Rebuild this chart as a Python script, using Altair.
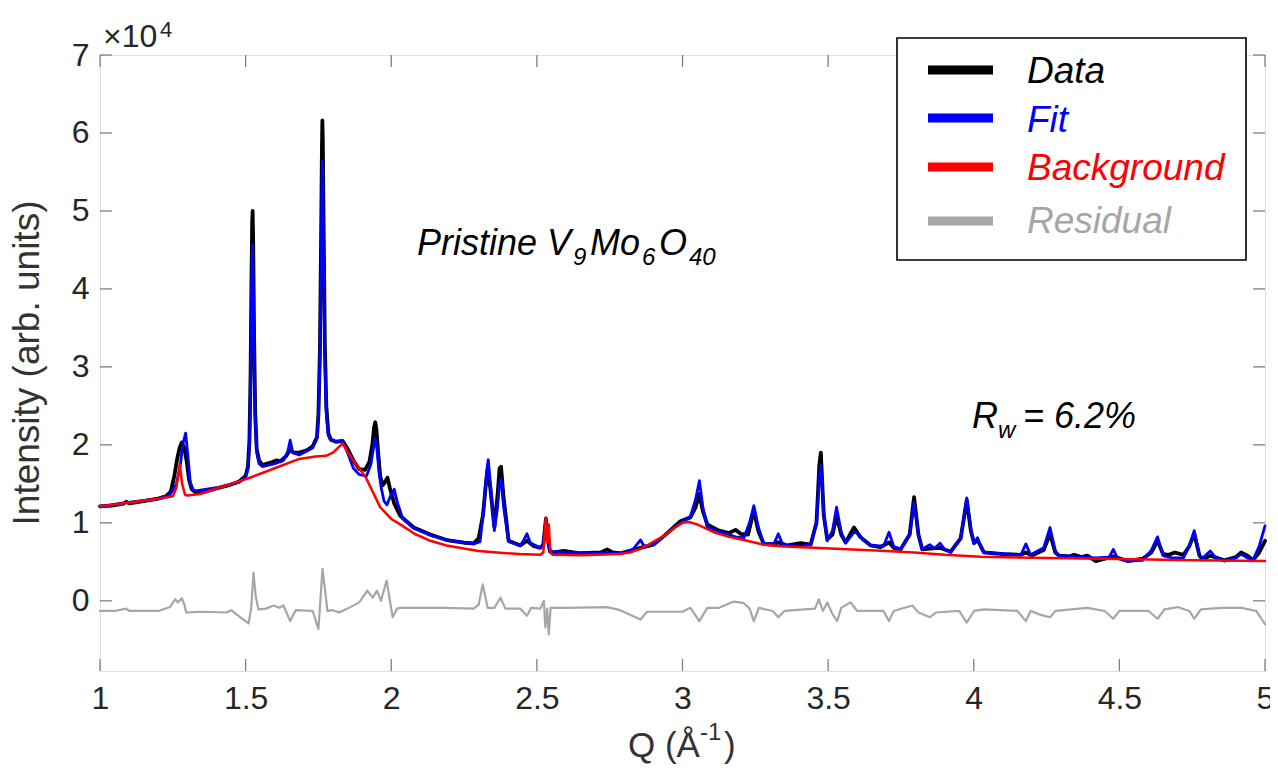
import altair as alt
import pandas as pd

# ---------------- data (intensity in units of 10^4) ----------------
data_q = [1.000, 1.040, 1.080, 1.090, 1.100, 1.150, 1.200, 1.226, 1.243, 1.255, 1.266, 1.274, 1.281, 1.290,
          1.298, 1.306, 1.315, 1.329, 1.360, 1.400, 1.440, 1.478, 1.500, 1.508, 1.513, 1.517, 1.520, 1.5225,
          1.524, 1.526, 1.529, 1.533, 1.538, 1.546, 1.558, 1.575, 1.592, 1.605, 1.620, 1.640, 1.653, 1.665,
          1.684, 1.710, 1.730, 1.745, 1.750, 1.755, 1.759, 1.762, 1.7635, 1.765, 1.768, 1.772, 1.777, 1.784,
          1.792, 1.810, 1.833, 1.850, 1.870, 1.890, 1.910, 1.925, 1.935, 1.941, 1.945, 1.949, 1.955, 1.962,
          1.970, 1.978, 1.987, 1.995, 2.010, 2.031, 2.077, 2.134, 2.190, 2.250, 2.283, 2.300, 2.315, 2.325,
          2.331, 2.340, 2.354, 2.365, 2.372, 2.377, 2.385, 2.403, 2.443, 2.466, 2.490, 2.512, 2.522, 2.531,
          2.537, 2.545, 2.560, 2.592, 2.649, 2.720, 2.741, 2.760, 2.786, 2.830, 2.856, 2.900, 2.936, 2.993,
          3.027, 3.045, 3.058, 3.070, 3.085, 3.125, 3.160, 3.182, 3.200, 3.225, 3.245, 3.260, 3.279, 3.310,
          3.329, 3.360, 3.405, 3.440, 3.460, 3.470, 3.475, 3.485, 3.497, 3.515, 3.529, 3.545, 3.560, 3.589,
          3.610, 3.646, 3.680, 3.709, 3.725, 3.749, 3.780, 3.795, 3.810, 3.823, 3.850, 3.884, 3.921, 3.955,
          3.976, 3.990, 4.001, 4.013, 4.035, 4.100, 4.162, 4.179, 4.200, 4.240, 4.262, 4.280, 4.293, 4.330,
          4.345, 4.370, 4.390, 4.419, 4.479, 4.528, 4.580, 4.610, 4.631, 4.650, 4.670, 4.690, 4.720, 4.740,
          4.757, 4.775, 4.786, 4.812, 4.860, 4.900, 4.918, 4.940, 4.958, 4.980, 5.000]
data_i = [1.21, 1.22, 1.245, 1.27, 1.25, 1.28, 1.31, 1.34, 1.40, 1.60, 1.84, 1.97, 2.03, 1.95,
          1.78, 1.55, 1.43, 1.39, 1.40, 1.44, 1.48, 1.53, 1.60, 1.72, 2.05, 2.9, 4.1, 4.85,
          5.0, 4.6, 3.4, 2.4, 1.95, 1.80, 1.74, 1.76, 1.78, 1.80, 1.79, 1.86, 1.94, 1.90,
          1.90, 1.93, 1.98, 2.10, 2.4, 3.2, 4.6, 5.8, 6.16, 5.9, 4.7, 3.3, 2.5, 2.15,
          2.07, 2.04, 2.05, 1.95, 1.80, 1.69, 1.68, 1.78, 2.00, 2.22, 2.29, 2.20, 1.90, 1.60,
          1.48, 1.52, 1.58, 1.45, 1.25, 1.09, 0.94, 0.85, 0.78, 0.745, 0.736, 0.80, 1.10, 1.50,
          1.67, 1.45, 0.95, 1.35, 1.70, 1.72, 1.35, 0.77, 0.71, 0.77, 0.70, 0.68, 0.72, 1.05,
          0.80, 0.63, 0.62, 0.64, 0.61, 0.62, 0.66, 0.62, 0.61, 0.65, 0.68, 0.72, 0.83, 1.02,
          1.07, 1.20, 1.37, 1.15, 0.98, 0.90, 0.87, 0.91, 0.86, 0.85, 1.16, 0.90, 0.73, 0.72,
          0.75, 0.71, 0.74, 0.72, 1.00, 1.75, 1.90, 1.10, 0.79, 0.85, 1.09, 0.85, 0.75, 0.94,
          0.82, 0.71, 0.69, 0.75, 0.68, 0.66, 0.85, 1.33, 0.85, 0.66, 0.67, 0.68, 0.63, 0.80,
          1.29, 0.90, 0.74, 0.78, 0.62, 0.60, 0.59, 0.62, 0.58, 0.65, 0.86, 0.62, 0.58, 0.57,
          0.59, 0.56, 0.58, 0.51, 0.57, 0.51, 0.54, 0.62, 0.77, 0.60, 0.59, 0.62, 0.59, 0.70,
          0.86, 0.58, 0.53, 0.58, 0.52, 0.56, 0.62, 0.58, 0.52, 0.62, 0.77]

fit_q = [1.000, 1.090, 1.200, 1.240, 1.262, 1.275, 1.285, 1.294, 1.302, 1.310, 1.320, 1.329, 1.400, 1.478,
         1.500, 1.508, 1.513, 1.517, 1.520, 1.5225, 1.524, 1.526, 1.529, 1.533, 1.538, 1.546, 1.558, 1.600,
         1.630, 1.645, 1.653, 1.662, 1.684, 1.730, 1.745, 1.750, 1.755, 1.759, 1.762, 1.7635, 1.765, 1.768,
         1.772, 1.777, 1.784, 1.792, 1.810, 1.833, 1.850, 1.870, 1.890, 1.915, 1.930, 1.940, 1.945, 1.950,
         1.958, 1.965, 1.975, 1.985, 1.998, 2.010, 2.022, 2.040, 2.077, 2.134, 2.190, 2.283, 2.305, 2.318,
         2.327, 2.333, 2.343, 2.354, 2.365, 2.372, 2.377, 2.386, 2.403, 2.443, 2.455, 2.466, 2.478, 2.512,
         2.522, 2.531, 2.537, 2.545, 2.592, 2.700, 2.786, 2.830, 2.845, 2.856, 2.868, 2.900, 2.936, 2.993,
         3.027, 3.045, 3.058, 3.070, 3.085, 3.125, 3.182, 3.211, 3.230, 3.245, 3.260, 3.279, 3.315, 3.329,
         3.343, 3.360, 3.405, 3.440, 3.460, 3.470, 3.475, 3.485, 3.497, 3.515, 3.529, 3.545, 3.560, 3.589,
         3.605, 3.620, 3.646, 3.690, 3.709, 3.725, 3.749, 3.780, 3.795, 3.810, 3.823, 3.840, 3.850, 3.865,
         3.884, 3.900, 3.921, 3.955, 3.976, 3.990, 4.001, 4.013, 4.025, 4.035, 4.162, 4.179, 4.195, 4.240,
         4.262, 4.280, 4.293, 4.419, 4.465, 4.479, 4.493, 4.528, 4.580, 4.610, 4.631, 4.650, 4.680, 4.720,
         4.740, 4.757, 4.775, 4.786, 4.812, 4.830, 4.860, 4.900, 4.918, 4.940, 4.958, 4.980, 5.000]
fit_i = [1.21, 1.26, 1.31, 1.36, 1.50, 1.72, 2.02, 2.15, 1.85, 1.52, 1.42, 1.41, 1.45, 1.52,
         1.59, 1.70, 2.00, 2.75, 3.8, 4.45, 4.56, 4.2, 3.2, 2.3, 1.90, 1.76, 1.72, 1.76,
         1.80, 1.92, 2.06, 1.90, 1.87, 1.96, 2.08, 2.35, 3.1, 4.3, 5.35, 5.64, 5.4, 4.3,
         3.1, 2.4, 2.12, 2.06, 2.04, 2.05, 1.90, 1.70, 1.62, 1.60, 1.75, 1.98, 2.07, 1.98,
         1.65, 1.46, 1.28, 1.23, 1.35, 1.43, 1.25, 1.05, 0.93, 0.84, 0.78, 0.73, 0.76, 1.20,
         1.65, 1.81, 1.40, 0.90, 1.20, 1.52, 1.56, 1.20, 0.76, 0.71, 0.78, 0.86, 0.74, 0.68,
         0.72, 1.06, 0.80, 0.63, 0.62, 0.61, 0.61, 0.66, 0.73, 0.78, 0.70, 0.72, 0.83, 1.00,
         1.08, 1.30, 1.54, 1.20, 0.94, 0.89, 0.82, 0.81, 1.00, 1.22, 0.95, 0.73, 0.74, 0.86,
         0.73, 0.71, 0.70, 0.72, 1.00, 1.62, 1.74, 1.10, 0.77, 0.90, 1.20, 0.88, 0.74, 0.88,
         0.86, 0.78, 0.71, 0.70, 0.88, 0.70, 0.66, 0.85, 1.26, 0.85, 0.66, 0.70, 0.72, 0.67,
         0.74, 0.66, 0.62, 0.80, 1.32, 0.92, 0.73, 0.81, 0.68, 0.62, 0.59, 0.73, 0.59, 0.68,
         0.94, 0.64, 0.58, 0.55, 0.56, 0.66, 0.55, 0.51, 0.52, 0.65, 0.82, 0.58, 0.55, 0.55,
         0.70, 0.90, 0.58, 0.55, 0.64, 0.55, 0.51, 0.55, 0.60, 0.55, 0.52, 0.70, 0.96]

bg_q = [1.000, 1.100, 1.200, 1.250, 1.262, 1.274, 1.282, 1.292, 1.300, 1.344, 1.400, 1.450, 1.512, 1.600,
        1.684, 1.740, 1.776, 1.800, 1.833, 1.860, 1.890, 1.913, 1.962, 2.000, 2.031, 2.080, 2.134, 2.190,
        2.249, 2.300, 2.363, 2.440, 2.512, 2.522, 2.531, 2.536, 2.541, 2.546, 2.555, 2.650, 2.707, 2.780,
        2.820, 2.850, 2.878, 2.910, 2.936, 2.970, 3.000, 3.022, 3.050, 3.108, 3.160, 3.222, 3.280, 3.337,
        3.450, 3.566, 3.700, 3.795, 3.900, 4.024, 4.250, 4.505, 4.750, 5.000]
bg_i = [1.21, 1.26, 1.31, 1.34, 1.45, 1.75, 1.50, 1.36, 1.35, 1.37, 1.44, 1.50, 1.575, 1.70,
        1.82, 1.85, 1.86, 1.90, 2.02, 1.85, 1.70, 1.58, 1.20, 1.05, 0.98, 0.86, 0.77, 0.71,
        0.67, 0.64, 0.62, 0.60, 0.59, 0.62, 1.07, 0.75, 0.98, 0.62, 0.59, 0.585, 0.59, 0.60,
        0.62, 0.66, 0.71, 0.78, 0.83, 0.93, 1.00, 1.01, 0.98, 0.88, 0.82, 0.77, 0.72, 0.70,
        0.68, 0.66, 0.64, 0.62, 0.59, 0.565, 0.55, 0.535, 0.52, 0.51]

res_q = [1.000, 1.050, 1.090, 1.100, 1.200, 1.240, 1.258, 1.268, 1.281, 1.290, 1.296, 1.350, 1.435, 1.450,
         1.481, 1.510, 1.519, 1.527, 1.535, 1.544, 1.570, 1.596, 1.615, 1.630, 1.653, 1.672, 1.730, 1.750,
         1.764, 1.781, 1.800, 1.821, 1.850, 1.890, 1.918, 1.936, 1.951, 1.965, 1.984, 2.005, 2.020, 2.031,
         2.190, 2.283, 2.300, 2.314, 2.331, 2.354, 2.375, 2.392, 2.443, 2.466, 2.480, 2.512, 2.524, 2.529,
         2.535, 2.541, 2.547, 2.600, 2.741, 2.786, 2.856, 2.878, 3.000, 3.027, 3.058, 3.085, 3.125, 3.176,
         3.211, 3.230, 3.245, 3.262, 3.310, 3.329, 3.350, 3.420, 3.455, 3.468, 3.482, 3.497, 3.515, 3.531,
         3.545, 3.577, 3.600, 3.690, 3.709, 3.725, 3.789, 3.810, 3.850, 3.870, 3.950, 3.976, 4.001, 4.035,
         4.150, 4.179, 4.195, 4.230, 4.262, 4.280, 4.390, 4.450, 4.479, 4.500, 4.600, 4.631, 4.655, 4.700,
         4.740, 4.757, 4.780, 4.850, 4.920, 4.970, 5.000]
res_i = [-0.13, -0.13, -0.10, -0.13, -0.13, -0.08, 0.02, -0.02, 0.035, -0.05, -0.15, -0.14, -0.15, -0.12,
         -0.21, -0.29, -0.10, 0.36, 0.05, -0.11, -0.10, -0.06, -0.09, -0.06, -0.26, -0.12, -0.13, -0.36,
         0.41, -0.13, -0.12, -0.15, -0.10, -0.02, 0.13, 0.04, 0.13, 0.00, 0.26, -0.21, -0.10, -0.09,
         -0.09, -0.10, -0.05, 0.21, -0.09, -0.09, 0.04, -0.10, -0.10, -0.19, -0.09, -0.10, 0.00, -0.34,
         -0.10, -0.43, -0.09, -0.09, -0.08, -0.12, -0.24, -0.14, -0.14, -0.09, -0.26, -0.09, -0.09, -0.01,
         -0.03, -0.10, -0.26, -0.09, -0.13, -0.21, -0.13, -0.11, -0.10, 0.02, -0.13, -0.02, -0.17, -0.26,
         -0.09, -0.02, -0.13, -0.13, -0.26, -0.13, -0.06, -0.15, -0.21, -0.15, -0.13, -0.28, -0.13, -0.11,
         -0.13, -0.26, -0.13, -0.18, -0.21, -0.13, -0.09, -0.13, -0.23, -0.13, -0.13, -0.23, -0.11, -0.08,
         -0.13, -0.23, -0.11, -0.09, -0.09, -0.13, -0.30]

x_ticks = [1, 1.5, 2, 2.5, 3, 3.5, 4, 4.5, 5]
y_ticks = [0, 1, 2, 3, 4, 5, 6, 7]
legend_labels = ["Data", "Fit", "Background", "Residual"]
series_colors = ["#000000", "#0000FF", "#FF0000", "#A6A6A6"]

# ---------------- styling ----------------
W, H = 1165, 616
FONT = "Liberation Sans"
AXC = "#7f7f7f"
TXT = "#262626"

xscale = alt.Scale(domain=[1, 5], nice=False, zero=False)
yscale = alt.Scale(domain=[-0.9, 7], nice=False, zero=False)
xaxis = alt.Axis(values=x_ticks, format="~g", title=None, domain=False, ticks=False, grid=False,
                 labelFontSize=32, labelFont=FONT, labelColor=TXT, labelPadding=12,
                 labelFlush=False, labelOverlap=False)
yaxis = alt.Axis(values=y_ticks, format="~g", title=None, domain=False, ticks=False, grid=False,
                 labelFontSize=32, labelFont=FONT, labelColor=TXT, labelPadding=11,
                 labelOverlap=False)


def xenc():
    return alt.X("Q:Q", scale=xscale, axis=xaxis)


def yenc():
    return alt.Y("I:Q", scale=yscale, axis=yaxis)


def line_layer(q, i, color, width):
    df = pd.DataFrame({"Q": q, "I": i})
    return alt.Chart(df).mark_line(color=color, strokeWidth=width, strokeJoin="round",
                                   strokeCap="round").encode(x=xenc(), y=yenc())


layers = [
    line_layer(data_q, data_i, series_colors[0], 3.8),
    line_layer(fit_q, fit_i, series_colors[1], 2.8),
    line_layer(bg_q, bg_i, series_colors[2], 2.5),
    line_layer(res_q, res_i, series_colors[3], 2.2),
]

# inward ticks on all four sides
xt = pd.DataFrame({"Q": x_ticks})
yt = pd.DataFrame({"I": y_ticks})
TL = 12
layers += [
    alt.Chart(xt).mark_rule(color=AXC, strokeWidth=1.3).encode(x=xenc(), y=alt.value(H), y2=alt.value(H - TL)),
    alt.Chart(xt).mark_rule(color=AXC, strokeWidth=1.3).encode(x=xenc(), y=alt.value(0), y2=alt.value(TL)),
    alt.Chart(yt).mark_rule(color=AXC, strokeWidth=1.3).encode(y=yenc(), x=alt.value(0), x2=alt.value(TL)),
    alt.Chart(yt).mark_rule(color=AXC, strokeWidth=1.3).encode(y=yenc(), x=alt.value(W), x2=alt.value(W - TL)),
]

one = pd.DataFrame({"a": [0]})


def txt(text, x, y, size, color="#000000", italic=False, angle=0, align="left"):
    kw = dict(text=text, font=FONT, fontSize=size, color=color, align=align, baseline="alphabetic")
    if italic:
        kw["fontStyle"] = "italic"
    if angle:
        kw["angle"] = angle
    return alt.Chart(one).mark_text(**kw).encode(x=alt.value(x), y=alt.value(y))


# axis titles and exponent
layers += [
    txt("Intensity (arb. units)", -61, 308, 37, color="#333333", angle=270, align="center"),
    txt("Q (Å", 528, 702, 35, color="#333333"),
    txt("-1", 600, 685, 24, color="#333333"),
    txt(")", 624, 702, 35, color="#333333"),
    txt("×10", 3, -8, 32, color=TXT),
    txt("4", 60, -18, 22, color=TXT),
]

# annotations
layers += [
    txt("Pristine V", 317, 200, 36, italic=True),
    txt("9", 473, 210, 24, italic=True),
    txt("Mo", 490, 200, 36, italic=True),
    txt("6", 542, 210, 24, italic=True),
    txt("O", 559, 200, 36, italic=True),
    txt("40", 589, 210, 24, italic=True),
    txt("R", 872, 373, 36, italic=True),
    txt("w", 898, 383, 24, italic=True),
    txt("= 6.2%", 923, 373, 36, italic=True),
]

# legend box
layers.append(
    alt.Chart(one).mark_rect(fill="white", stroke="#000000", strokeWidth=1.6).encode(
        x=alt.value(797), x2=alt.value(1146), y=alt.value(-17), y2=alt.value(205))
)
leg_line_y = [15, 63, 112, 166]
leg_text_y = [28, 77, 125, 178]
for lab, col, ly, ty in zip(legend_labels, series_colors, leg_line_y, leg_text_y):
    layers.append(alt.Chart(one).mark_rule(color=col, strokeWidth=9).encode(
        x=alt.value(828), x2=alt.value(893), y=alt.value(ly)))
    layers.append(txt(lab, 927, ty, 37, color=col, italic=True))

chart = alt.layer(*layers).properties(
    width=W, height=H,
    autosize=alt.AutoSizeParams(type="none"),
    padding={"left": 92, "top": 47, "right": 5, "bottom": 94},
).configure_view(stroke=AXC, strokeWidth=1.5).configure(background="white")

chart.save("out.html", embed_options={"renderer": "svg", "actions": False})
